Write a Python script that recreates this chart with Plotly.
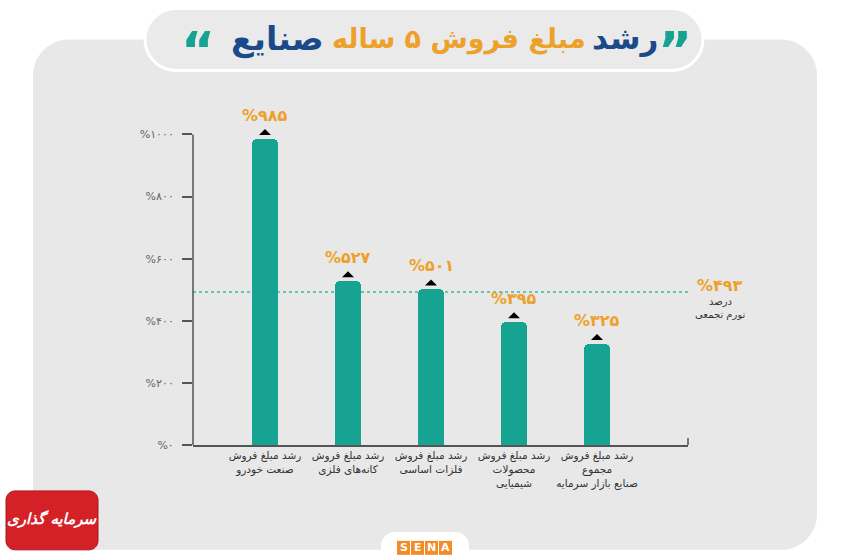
import plotly.graph_objects as go

# ---------------- data ----------------
categories = [
    "رشد مبلغ فروش<br>صنعت خودرو",
    "رشد مبلغ فروش<br>کانه‌های فلزی",
    "رشد مبلغ فروش<br>فلزات اساسی",
    "رشد مبلغ فروش<br>محصولات<br>شیمیایی",
    "رشد مبلغ فروش<br>مجموع<br>صنایع بازار سرمایه",
]
growth = [985, 527, 501, 395, 325]
inflation = 493
y_ticks = [0, 200, 400, 600, 800, 1000]
y_max = 1000
y_top = 1040

FA = str.maketrans("0123456789", "۰۱۲۳۴۵۶۷۸۹")


def fa(n):
    return "%" + str(n).translate(FA)


FONT = "DejaVu Sans"
TEAL = "#17a391"
ORANGE = "#eea12a"
NAVY = "#1b4a8a"

# plot-area geometry in pixels (for decorative paper-space shapes)
L, R, B = 193, 688, 445
PX_PER_UNIT = (445 - 134) / y_max
T = B - y_top * PX_PER_UNIT
W, H = R - L, B - T


def xp(px):
    return (px - L) / W


def yp(py):
    return (B - py) / H


def rrect(x0, y0, x1, y1, r):
    k = 0.45
    pts = [
        f"M{xp(x0 + r)},{yp(y0)}",
        f"L{xp(x1 - r)},{yp(y0)}",
        f"C{xp(x1 - r * k)},{yp(y0)} {xp(x1)},{yp(y0 + r * k)} {xp(x1)},{yp(y0 + r)}",
        f"L{xp(x1)},{yp(y1 - r)}",
        f"C{xp(x1)},{yp(y1 - r * k)} {xp(x1 - r * k)},{yp(y1)} {xp(x1 - r)},{yp(y1)}",
        f"L{xp(x0 + r)},{yp(y1)}",
        f"C{xp(x0 + r * k)},{yp(y1)} {xp(x0)},{yp(y1 - r * k)} {xp(x0)},{yp(y1 - r)}",
        f"L{xp(x0)},{yp(y0 + r)}",
        f"C{xp(x0)},{yp(y0 + r * k)} {xp(x0 + r * k)},{yp(y0)} {xp(x0 + r)},{yp(y0)}",
        "Z",
    ]
    return " ".join(pts)


idx = list(range(len(categories)))

fig = go.Figure()
fig.add_trace(go.Bar(
    x=idx, y=growth, width=0.31,
    marker=dict(color=TEAL, cornerradius=5, line=dict(width=0)),
    hoverinfo="skip",
))

shapes = []
# background panel
shapes.append(dict(type="path", xref="paper", yref="paper", layer="below",
                   path=rrect(33, 39, 817, 550, 36), fillcolor="#e8e8e8",
                   line=dict(width=0)))
# title pill
shapes.append(dict(type="path", xref="paper", yref="paper", layer="below",
                   path=rrect(145, 8, 703, 70, 31), fillcolor="#eaeaea",
                   line=dict(color="white", width=3)))
# inflation dotted line
shapes.append(dict(type="line", xref="paper", yref="y", x0=0, x1=1,
                   y0=inflation, y1=inflation, layer="below",
                   line=dict(color="#3db8a6", width=1.5, dash="dot")))
# y axis line (0 .. 1000 only)
shapes.append(dict(type="line", xref="paper", yref="y", x0=0, x1=0,
                   y0=0, y1=y_max, line=dict(color="#555", width=1.5)))
# right end tick of baseline
shapes.append(dict(type="line", xref="paper", yref="paper", x0=1, x1=1,
                   y0=0, y1=yp(438), line=dict(color="#555", width=1.5)))
# triangles above bars
for i, v in zip(idx, growth):
    shapes.append(dict(type="path", xref="x", yref="y",
                       xsizemode="pixel", ysizemode="pixel",
                       xanchor=i, yanchor=v,
                       path="M-6,4 L6,4 L0,10 Z",
                       fillcolor="black", line=dict(width=0)))
# red logo
shapes.append(dict(type="path", xref="paper", yref="paper",
                   path=rrect(6, 491, 98, 550, 9), fillcolor="#d42027",
                   line=dict(color="#b0141b", width=1)))
# SENA tab
shapes.append(dict(type="path", xref="paper", yref="paper",
                   path=rrect(381, 532, 469, 580, 14), fillcolor="white",
                   line=dict(width=0)))
sena_letters = ["S", "E", "N", "A"]
for k, ch in enumerate(sena_letters):
    x0 = 397 + k * 14
    shapes.append(dict(type="rect", xref="paper", yref="paper",
                       x0=xp(x0), x1=xp(x0 + 13), y0=yp(541), y1=yp(555),
                       fillcolor="#f28c28", line=dict(width=0)))

annotations = []
# value labels
for i, v in zip(idx, growth):
    annotations.append(dict(x=i, y=v, xref="x", yref="y", text=fa(v),
                            showarrow=False, xanchor="center",
                            yanchor="bottom", yshift=12,
                            font=dict(family=FONT, size=16, color=ORANGE,
                                      weight="bold")))
# inflation labels
annotations.append(dict(x=xp(720), y=yp(285), xref="paper", yref="paper",
                        text=fa(inflation), showarrow=False,
                        xanchor="center", yanchor="middle",
                        font=dict(family=FONT, size=16, color=ORANGE,
                                  weight="bold")))
annotations.append(dict(x=xp(720), y=yp(301), xref="paper", yref="paper",
                        text="درصد", showarrow=False,
                        xanchor="center", yanchor="middle",
                        font=dict(family=FONT, size=10, color="#333")))
annotations.append(dict(x=xp(720), y=yp(314), xref="paper", yref="paper",
                        text="تورم تجمعی", showarrow=False,
                        xanchor="center", yanchor="middle",
                        font=dict(family=FONT, size=10, color="#333")))
# title pieces
title_parts = [
    ("رشد", 660, NAVY, 31),
    ("مبلغ فروش ۵ ساله", 588, ORANGE, 27),
    ("صنایع", 326, NAVY, 33),
]
for txt, xr, col, sz in title_parts:
    annotations.append(dict(x=xp(xr), y=yp(38), xref="paper", yref="paper",
                            text=txt, showarrow=False, xanchor="right",
                            yanchor="middle",
                            font=dict(family=FONT, size=sz, color=col,
                                      weight="bold")))
for txt, xc in [("”", 675), ("“", 198)]:
    annotations.append(dict(x=xp(xc), y=yp(38), xref="paper", yref="paper",
                            text=txt, showarrow=False, xanchor="center",
                            yanchor="middle", yshift=-12,
                            font=dict(family=FONT, size=52, color=TEAL,
                                      weight="bold")))
# logo texts
annotations.append(dict(x=xp(52), y=yp(519), xref="paper", yref="paper",
                        text="<i>سرمایه گذاری</i>", showarrow=False,
                        xanchor="center", yanchor="middle",
                        font=dict(family=FONT, size=15, color="white",
                                  weight="bold")))
for k, ch in enumerate(sena_letters):
    annotations.append(dict(x=xp(397 + k * 14 + 6.5), y=yp(548),
                            xref="paper", yref="paper", text=ch,
                            showarrow=False, xanchor="center",
                            yanchor="middle",
                            font=dict(family=FONT, size=11, color="white",
                                      weight="bold")))

fig.update_layout(
    width=850, height=560,
    margin=dict(l=L, r=850 - R, t=T, b=560 - B, pad=0),
    paper_bgcolor="white", plot_bgcolor="rgba(0,0,0,0)",
    showlegend=False, bargap=0,
    shapes=shapes, annotations=annotations,
    font=dict(family=FONT),
    xaxis=dict(range=[-0.867, 5.096], tickvals=idx, ticktext=categories,
               showline=True, linecolor="#555", linewidth=1.5,
               ticks="", showgrid=False, zeroline=False, fixedrange=True,
               tickfont=dict(family=FONT, size=10.5, color="#333")),
    yaxis=dict(range=[0, y_top], tickvals=y_ticks,
               ticktext=[fa(t) for t in y_ticks],
               showline=False,
               ticks="outside", ticklen=10, tickwidth=1.5, tickcolor="#555",
               ticklabelstandoff=6,
               showgrid=False, zeroline=False, fixedrange=True,
               tickfont=dict(family=FONT, size=11, color="#666")),
)

fig.write_html("out.html")
